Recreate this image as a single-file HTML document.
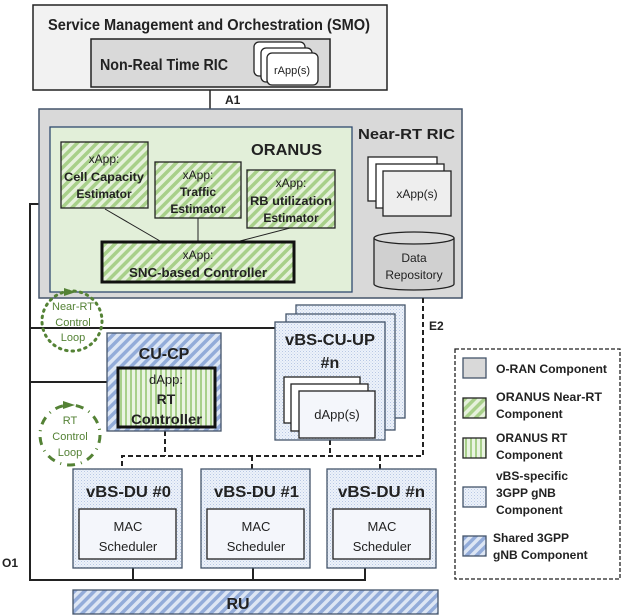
<!DOCTYPE html>
<html><head><meta charset="utf-8"><style>
html,body{margin:0;padding:0;background:#fff}
svg{display:block}
text{font-family:"Liberation Sans",sans-serif}
</style></head><body>
<svg width="623" height="616" viewBox="0 0 623 616" xmlns="http://www.w3.org/2000/svg">
<defs>
<pattern id="gd" width="7" height="7" patternUnits="userSpaceOnUse" patternTransform="rotate(45)">
<rect width="7" height="7" fill="#e6f1dc"/><rect width="3.5" height="7" fill="#a8d08a"/></pattern>
<pattern id="gv" width="5" height="5" patternUnits="userSpaceOnUse">
<rect width="5" height="5" fill="#eaf4e2"/><rect width="2" height="5" fill="#a8d08a"/></pattern>
<pattern id="bd" width="7" height="7" patternUnits="userSpaceOnUse" patternTransform="rotate(45)">
<rect width="7" height="7" fill="#dde6f4"/><rect width="3.5" height="7" fill="#93acd9"/></pattern>
<pattern id="bs" width="3" height="3" patternUnits="userSpaceOnUse">
<rect width="3" height="3" fill="#edf2fa"/><rect width="1" height="1" fill="#b8c8e4"/><rect x="1.5" y="1.5" width="1" height="1" fill="#c8d5ec"/></pattern>
</defs>

<!-- SMO -->
<rect x="33" y="5" width="354" height="85" fill="#f2f2f2" stroke="#222" stroke-width="1.5"/>
<text x="48" y="30" font-size="16" font-weight="bold" fill="#222" textLength="322" lengthAdjust="spacingAndGlyphs">Service Management and Orchestration (SMO)</text>
<rect x="91" y="39" width="239" height="48" fill="#d9d9d9" stroke="#222" stroke-width="1.5"/>
<text x="100" y="70" font-size="16" font-weight="bold" fill="#222" textLength="128" lengthAdjust="spacingAndGlyphs">Non-Real Time RIC</text>
<rect x="254" y="42" width="51" height="34" rx="5" fill="#fff" stroke="#222" stroke-width="1.3"/>
<rect x="261" y="48" width="51" height="34" rx="5" fill="#fff" stroke="#222" stroke-width="1.3"/>
<rect x="267" y="53" width="51" height="32" rx="5" fill="#fff" stroke="#222" stroke-width="1.3"/>
<text x="292" y="74" font-size="11" text-anchor="middle" fill="#222">rApp(s)</text>
<line x1="210" y1="90" x2="210" y2="109" stroke="#222" stroke-width="1.5"/>
<text x="225" y="104" font-size="12" font-weight="bold" fill="#222">A1</text>

<!-- O1 lines -->
<polyline points="39,204 30,204 30,580 365,580 365,568" fill="none" stroke="#222" stroke-width="2"/>
<line x1="30" y1="328" x2="275" y2="328" stroke="#222" stroke-width="2"/>
<line x1="30" y1="382" x2="107" y2="382" stroke="#222" stroke-width="2"/>
<line x1="133" y1="568" x2="133" y2="580" stroke="#222" stroke-width="2"/>
<line x1="253" y1="568" x2="253" y2="580" stroke="#222" stroke-width="2"/>
<text x="2" y="567" font-size="12" font-weight="bold" fill="#222">O1</text>

<!-- Near-RT RIC -->
<rect x="39" y="109" width="423" height="189" fill="#d9d9d9" stroke="#44546a" stroke-width="1.5"/>
<text x="358" y="139" font-size="15" font-weight="bold" fill="#222" textLength="97" lengthAdjust="spacingAndGlyphs">Near-RT RIC</text>
<rect x="50" y="127" width="302" height="165" fill="#e2efd9" stroke="#2f4a6e" stroke-width="1.3"/>
<text x="251" y="155" font-size="16" font-weight="bold" fill="#222" textLength="71" lengthAdjust="spacingAndGlyphs">ORANUS</text>
<line x1="105" y1="209" x2="160" y2="241" stroke="#222"/>
<line x1="198" y1="218" x2="198" y2="241" stroke="#222"/>
<line x1="290" y1="228" x2="240" y2="241" stroke="#222"/>
<rect x="61" y="142" width="87" height="66" fill="url(#gd)" stroke="#222" stroke-width="1.3"/>
<text x="104" y="163" font-size="12" text-anchor="middle" fill="#222">xApp:</text>
<text x="64" y="181" font-size="12" font-weight="bold" fill="#222" textLength="80" lengthAdjust="spacingAndGlyphs">Cell Capacity</text>
<text x="104" y="198" font-size="12" font-weight="bold" text-anchor="middle" fill="#222">Estimator</text>
<rect x="155" y="162" width="86" height="56" fill="url(#gd)" stroke="#222" stroke-width="1.3"/>
<text x="198" y="179" font-size="12" text-anchor="middle" fill="#222">xApp:</text>
<text x="198" y="196" font-size="12" font-weight="bold" text-anchor="middle" fill="#222">Traffic</text>
<text x="198" y="213" font-size="12" font-weight="bold" text-anchor="middle" fill="#222">Estimator</text>
<rect x="247" y="170" width="88" height="58" fill="url(#gd)" stroke="#222" stroke-width="1.3"/>
<text x="291" y="187" font-size="12" text-anchor="middle" fill="#222">xApp:</text>
<text x="250" y="205" font-size="12" font-weight="bold" fill="#222" textLength="82" lengthAdjust="spacingAndGlyphs">RB utilization</text>
<text x="291" y="222" font-size="12" font-weight="bold" text-anchor="middle" fill="#222">Estimator</text>
<rect x="102" y="242" width="192" height="40" fill="url(#gd)" stroke="#111" stroke-width="3"/>
<text x="198" y="259" font-size="12" text-anchor="middle" fill="#222">xApp:</text>
<text x="129" y="277" font-size="13" font-weight="bold" fill="#222" textLength="138" lengthAdjust="spacingAndGlyphs">SNC-based Controller</text>
<rect x="368" y="157" width="69" height="44" fill="#fff" stroke="#222" stroke-width="1.3"/>
<rect x="376" y="164" width="68" height="44" fill="#fff" stroke="#222" stroke-width="1.3"/>
<rect x="383" y="171" width="68" height="45" fill="#eee" stroke="#222" stroke-width="1.3"/>
<text x="417" y="198" font-size="12" text-anchor="middle" fill="#222">xApp(s)</text>
<path d="M374,238 L374,284 A40,6 0 0 0 454,284 L454,238" fill="#d0d0d0" stroke="#222" stroke-width="1.3"/>
<ellipse cx="414" cy="238" rx="40" ry="6" fill="#d9d9d9" stroke="#222" stroke-width="1.3"/>
<text x="414" y="262" font-size="12" text-anchor="middle" fill="#222">Data</text>
<text x="414" y="279" font-size="12" text-anchor="middle" fill="#222">Repository</text>

<!-- E2 dashed -->
<g fill="none" stroke="#222" stroke-width="2" stroke-dasharray="5,3">
<polyline points="423,298 423,456 122,456 122,469"/>
<line x1="165" y1="431" x2="165" y2="456"/>
<line x1="330" y1="440" x2="330" y2="456"/>
<line x1="252" y1="456" x2="252" y2="469"/>
<line x1="380" y1="456" x2="380" y2="469"/>
</g>
<text x="429" y="330" font-size="12" font-weight="bold" fill="#222">E2</text>

<!-- control loops -->
<circle cx="72" cy="321" r="30" fill="none" stroke="#548235" stroke-width="3" stroke-dasharray="1.5,5" stroke-linecap="round"/>
<polygon points="64,288 76,292 64,296" fill="#548235"/>
<text x="73" y="310" font-size="11" text-anchor="middle" fill="#548235">Near-RT</text>
<text x="73" y="326" font-size="11" text-anchor="middle" fill="#548235">Control</text>
<text x="73" y="341" font-size="11" text-anchor="middle" fill="#548235">Loop</text>
<circle cx="70" cy="435" r="30" fill="none" stroke="#548235" stroke-width="3" stroke-dasharray="8,6,1,6"/>
<polygon points="63,401 75,405 63,409" fill="#548235"/>
<text x="70" y="424" font-size="11" text-anchor="middle" fill="#548235">RT</text>
<text x="70" y="440" font-size="11" text-anchor="middle" fill="#548235">Control</text>
<text x="70" y="456" font-size="11" text-anchor="middle" fill="#548235">Loop</text>

<!-- CU-CP -->
<rect x="107" y="333" width="114" height="98" fill="url(#bd)" stroke="#44546a" stroke-width="1.3"/>
<text x="164" y="359" font-size="16" font-weight="bold" text-anchor="middle" fill="#222">CU-CP</text>
<rect x="118" y="368" width="97" height="59" fill="url(#gv)" stroke="#111" stroke-width="3"/>
<text x="166" y="384" font-size="13" text-anchor="middle" fill="#222">dApp:</text>
<text x="166" y="404" font-size="14" font-weight="bold" text-anchor="middle" fill="#222">RT</text>
<text x="131" y="424" font-size="14" font-weight="bold" fill="#222" textLength="71" lengthAdjust="spacingAndGlyphs">Controller</text>

<!-- CU-UP -->
<rect x="296" y="305" width="109" height="113" fill="url(#bs)" stroke="#44546a" stroke-width="1.3"/>
<rect x="286" y="314" width="109" height="116" fill="url(#bs)" stroke="#44546a" stroke-width="1.3"/>
<rect x="275" y="322" width="110" height="118" fill="url(#bs)" stroke="#44546a" stroke-width="1.3"/>
<text x="285" y="345" font-size="16" font-weight="bold" fill="#222" textLength="90" lengthAdjust="spacingAndGlyphs">vBS-CU-UP</text>
<text x="330" y="368" font-size="16" font-weight="bold" text-anchor="middle" fill="#222">#n</text>
<rect x="284" y="377" width="76" height="46" fill="#fff" stroke="#222" stroke-width="1.3"/>
<rect x="291" y="384" width="77" height="47" fill="#fff" stroke="#222" stroke-width="1.3"/>
<rect x="299" y="391" width="76" height="47" fill="#f4f6fb" stroke="#222" stroke-width="1.3"/>
<text x="337" y="419" font-size="13" text-anchor="middle" fill="#222">dApp(s)</text>

<!-- DUs -->
<g>
<rect x="73" y="469" width="109" height="99" fill="url(#bs)" stroke="#44546a" stroke-width="1.3"/>
<text x="86" y="497" font-size="16" font-weight="bold" fill="#222" textLength="85" lengthAdjust="spacingAndGlyphs">vBS-DU #0</text>
<rect x="79" y="509" width="97" height="50" fill="#f4f6fb" stroke="#222" stroke-width="1.3"/>
<text x="128" y="531" font-size="13" text-anchor="middle" fill="#222">MAC</text>
<text x="128" y="551" font-size="13" text-anchor="middle" fill="#222">Scheduler</text>
<rect x="201" y="469" width="109" height="99" fill="url(#bs)" stroke="#44546a" stroke-width="1.3"/>
<text x="214" y="497" font-size="16" font-weight="bold" fill="#222" textLength="85" lengthAdjust="spacingAndGlyphs">vBS-DU #1</text>
<rect x="207" y="509" width="97" height="50" fill="#f4f6fb" stroke="#222" stroke-width="1.3"/>
<text x="256" y="531" font-size="13" text-anchor="middle" fill="#222">MAC</text>
<text x="256" y="551" font-size="13" text-anchor="middle" fill="#222">Scheduler</text>
<rect x="327" y="469" width="109" height="99" fill="url(#bs)" stroke="#44546a" stroke-width="1.3"/>
<text x="338" y="497" font-size="16" font-weight="bold" fill="#222" textLength="87" lengthAdjust="spacingAndGlyphs">vBS-DU #n</text>
<rect x="333" y="509" width="97" height="50" fill="#f4f6fb" stroke="#222" stroke-width="1.3"/>
<text x="382" y="531" font-size="13" text-anchor="middle" fill="#222">MAC</text>
<text x="382" y="551" font-size="13" text-anchor="middle" fill="#222">Scheduler</text>
</g>

<!-- RU -->
<rect x="73" y="590" width="365" height="24" fill="url(#bd)" stroke="#44546a" stroke-width="1.3"/>
<text x="238" y="609" font-size="16" font-weight="bold" text-anchor="middle" fill="#222">RU</text>

<!-- Legend -->
<rect x="455" y="349" width="165" height="230" fill="#fff" stroke="#222" stroke-width="1.3" stroke-dasharray="4,2"/>
<rect x="463" y="358" width="23" height="20" fill="#d9d9d9" stroke="#44546a" stroke-width="1.3"/>
<text x="496" y="373" font-size="12" font-weight="bold" fill="#222" textLength="111" lengthAdjust="spacingAndGlyphs">O-RAN Component</text>
<rect x="463" y="398" width="23" height="20" fill="url(#gd)" stroke="#222" stroke-width="1.3"/>
<text x="496" y="401" font-size="12" font-weight="bold" fill="#222" textLength="106" lengthAdjust="spacingAndGlyphs">ORANUS Near-RT</text>
<text x="496" y="418" font-size="12" font-weight="bold" fill="#222">Component</text>
<rect x="463" y="438" width="23" height="20" fill="url(#gv)" stroke="#222" stroke-width="1.3"/>
<text x="496" y="442" font-size="12" font-weight="bold" fill="#222">ORANUS RT</text>
<text x="496" y="459" font-size="12" font-weight="bold" fill="#222">Component</text>
<rect x="463" y="487" width="23" height="20" fill="url(#bs)" stroke="#44546a" stroke-width="1.3"/>
<text x="496" y="480" font-size="12" font-weight="bold" fill="#222">vBS-specific</text>
<text x="496" y="497" font-size="12" font-weight="bold" fill="#222">3GPP gNB</text>
<text x="496" y="514" font-size="12" font-weight="bold" fill="#222">Component</text>
<rect x="463" y="536" width="23" height="20" fill="url(#bd)" stroke="#44546a" stroke-width="1.3"/>
<text x="493" y="542" font-size="12" font-weight="bold" fill="#222">Shared 3GPP</text>
<text x="493" y="559" font-size="12" font-weight="bold" fill="#222">gNB Component</text>
</svg>
</body></html>
